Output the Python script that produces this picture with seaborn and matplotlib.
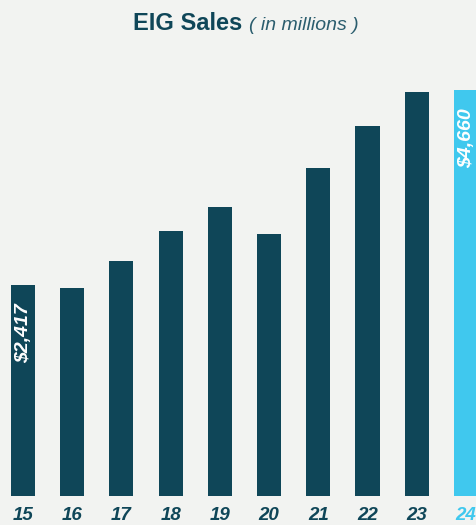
import matplotlib
matplotlib.use("Agg")
import matplotlib.pyplot as plt
import seaborn as sns
import pandas as pd

years = ["15", "16", "17", "18", "19", "20", "21", "22", "23", "24"]
sales = [2417, 2387, 2697, 3042, 3317, 3007, 3765, 4247, 4637, 4660]
value_labels = {"15": "$2,417", "24": "$4,660"}

DARK = "#0f4658"
LIGHT = "#40c8ee"
BG = "#f2f3f1"
bar_colors = [DARK] * 9 + [LIGHT]

sns.set_theme(style="white")
plt.rcParams['font.family'] = ['Liberation Sans', 'DejaVu Sans']

df = pd.DataFrame({"year": years, "sales": sales})

fig = plt.figure(figsize=(4.77, 5.25), dpi=100, facecolor=BG)
ax = fig.add_axes([0, 29 / 525, 1, 406 / 525])
ax.set_facecolor(BG)

sns.barplot(data=df, x="year", y="sales", hue="year", palette=bar_colors,
            legend=False, width=0.49, saturation=1, linewidth=0, ax=ax)

ax.set_ylim(0, 4660)
ax.set_xlim(-0.467, 9.224)
for s in ax.spines.values():
    s.set_visible(False)
ax.set_yticks([])
ax.set_xlabel("")
ax.set_ylabel("")
ax.tick_params(axis="x", length=0, pad=8)
ax.set_xticks(range(len(years)))
ax.set_xticklabels(years, fontsize=13.5, fontweight="bold", fontstyle="italic")
for lbl, c in zip(ax.get_xticklabels(), bar_colors):
    lbl.set_color(c)

for i, (y, v) in enumerate(zip(years, sales)):
    if y in value_labels:
        ax.annotate(value_labels[y], xy=(i, v), xytext=(0.5, -13), textcoords="offset points",
                    rotation=90, ha="center", va="top", color="white",
                    fontsize=14, fontweight="bold", fontstyle="italic")

fig.text(0.508, 0.943, "EIG Sales", ha="right", va="baseline", fontsize=17,
         fontweight="bold", color=DARK)
fig.text(0.522, 0.943, "( in millions )", ha="left", va="baseline", fontsize=14,
         fontstyle="italic", color="#2b5d6e")

fig.savefig("out.png", dpi=100, facecolor=BG)
